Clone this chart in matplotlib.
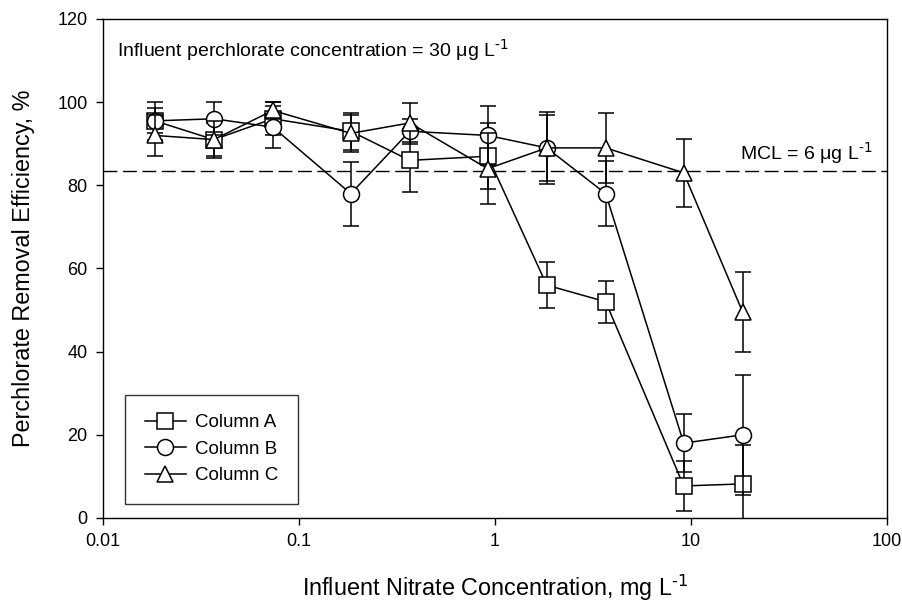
import matplotlib
matplotlib.use("Agg")
import matplotlib.pyplot as plt
from matplotlib.lines import Line2D

# Influent nitrate concentration, mg/L
nitrate = [0.0184, 0.0368, 0.0736, 0.184, 0.368, 0.92, 1.84, 3.68, 9.2, 18.4]

# Perchlorate removal efficiency, % (mean and error)
col_a = [95.5, 91, 96, 93, 86, 87, 56, 52, 7.7, 8.2]
col_a_err = [4.5, 4, 4, 4.5, 7.5, 8, 5.5, 5, 6, 9.3]
col_b = [95.5, 96, 94, 78, 93, 92, 89, 78, 18, 20]
col_b_err = [3, 4, 5, 7.7, 3, 7, 8.6, 7.8, 7, 14.5]
col_c = [92, 91, 98, 92.5, 95, 84, 89, 89, 83, 49.5]
col_c_err = [5, 4.5, 2, 4.5, 4.7, 8.5, 8, 8.5, 8.2, 9.7]

mcl_level = 83.5

plt.rcParams["font.family"] = ["Liberation Sans", "DejaVu Sans"]
plt.rcParams["mathtext.default"] = "regular"

fig = plt.figure(figsize=(9.03, 6.03), dpi=100)
ax = fig.add_axes([0.114, 0.141, 0.868, 0.8275])

series = [
    ("Column A", col_a, col_a_err, "s"),
    ("Column B", col_b, col_b_err, "o"),
    ("Column C", col_c, col_c_err, "^"),
]
handles = []
for i, (label, y, err, marker) in enumerate(series):
    style = dict(color="black", marker=marker, markersize=11.5,
                 markerfacecolor="white", markeredgecolor="black",
                 markeredgewidth=1.1, linewidth=1.1)
    ax.errorbar(nitrate, y, yerr=err, elinewidth=1.1, capsize=6, capthick=1.1,
                zorder=3 + i, **style)
    handles.append(Line2D([], [], label=label, **style))

# MCL line
ax.axhline(mcl_level, color="black", linewidth=1.0, dashes=(10, 4), zorder=2)

ax.set_xscale("log")
ax.set_xlim(0.01, 100)
ax.set_ylim(0, 120)
ax.set_yticks(range(0, 121, 20))
ax.set_xticks([0.01, 0.1, 1, 10, 100])
ax.set_xticklabels(["0.01", "0.1", "1", "10", "100"])
ax.minorticks_off()
ax.tick_params(direction="out", length=5, width=1, labelsize=13, pad=6)

ax.set_xlabel(r"Influent Nitrate Concentration, mg L$^{\text{-1}}$", fontsize=16.8, labelpad=16)
ax.set_ylabel("Perchlorate Removal Efficiency, %", fontsize=16.8, labelpad=16)

ax.text(0.018, 0.938, r"Influent perchlorate concentration = 30 μg L$^{\text{-1}}$",
        transform=ax.transAxes, fontsize=14, va="center", ha="left")
ax.text(0.8125, 0.731, r"MCL = 6 μg L$^{\text{-1}}$",
        transform=ax.transAxes, fontsize=14, va="center", ha="left")

leg = ax.legend(handles=handles, loc="lower left", bbox_to_anchor=(0.028, 0.028),
                fontsize=13.5, frameon=True, fancybox=False, edgecolor="black",
                borderpad=1.05, borderaxespad=0, handlelength=2.2,
                handletextpad=0.5, labelspacing=0.5)
leg.get_frame().set_linewidth(1.0)

for s in ax.spines.values():
    s.set_linewidth(1.0)

fig.savefig("out.png", dpi=100)
